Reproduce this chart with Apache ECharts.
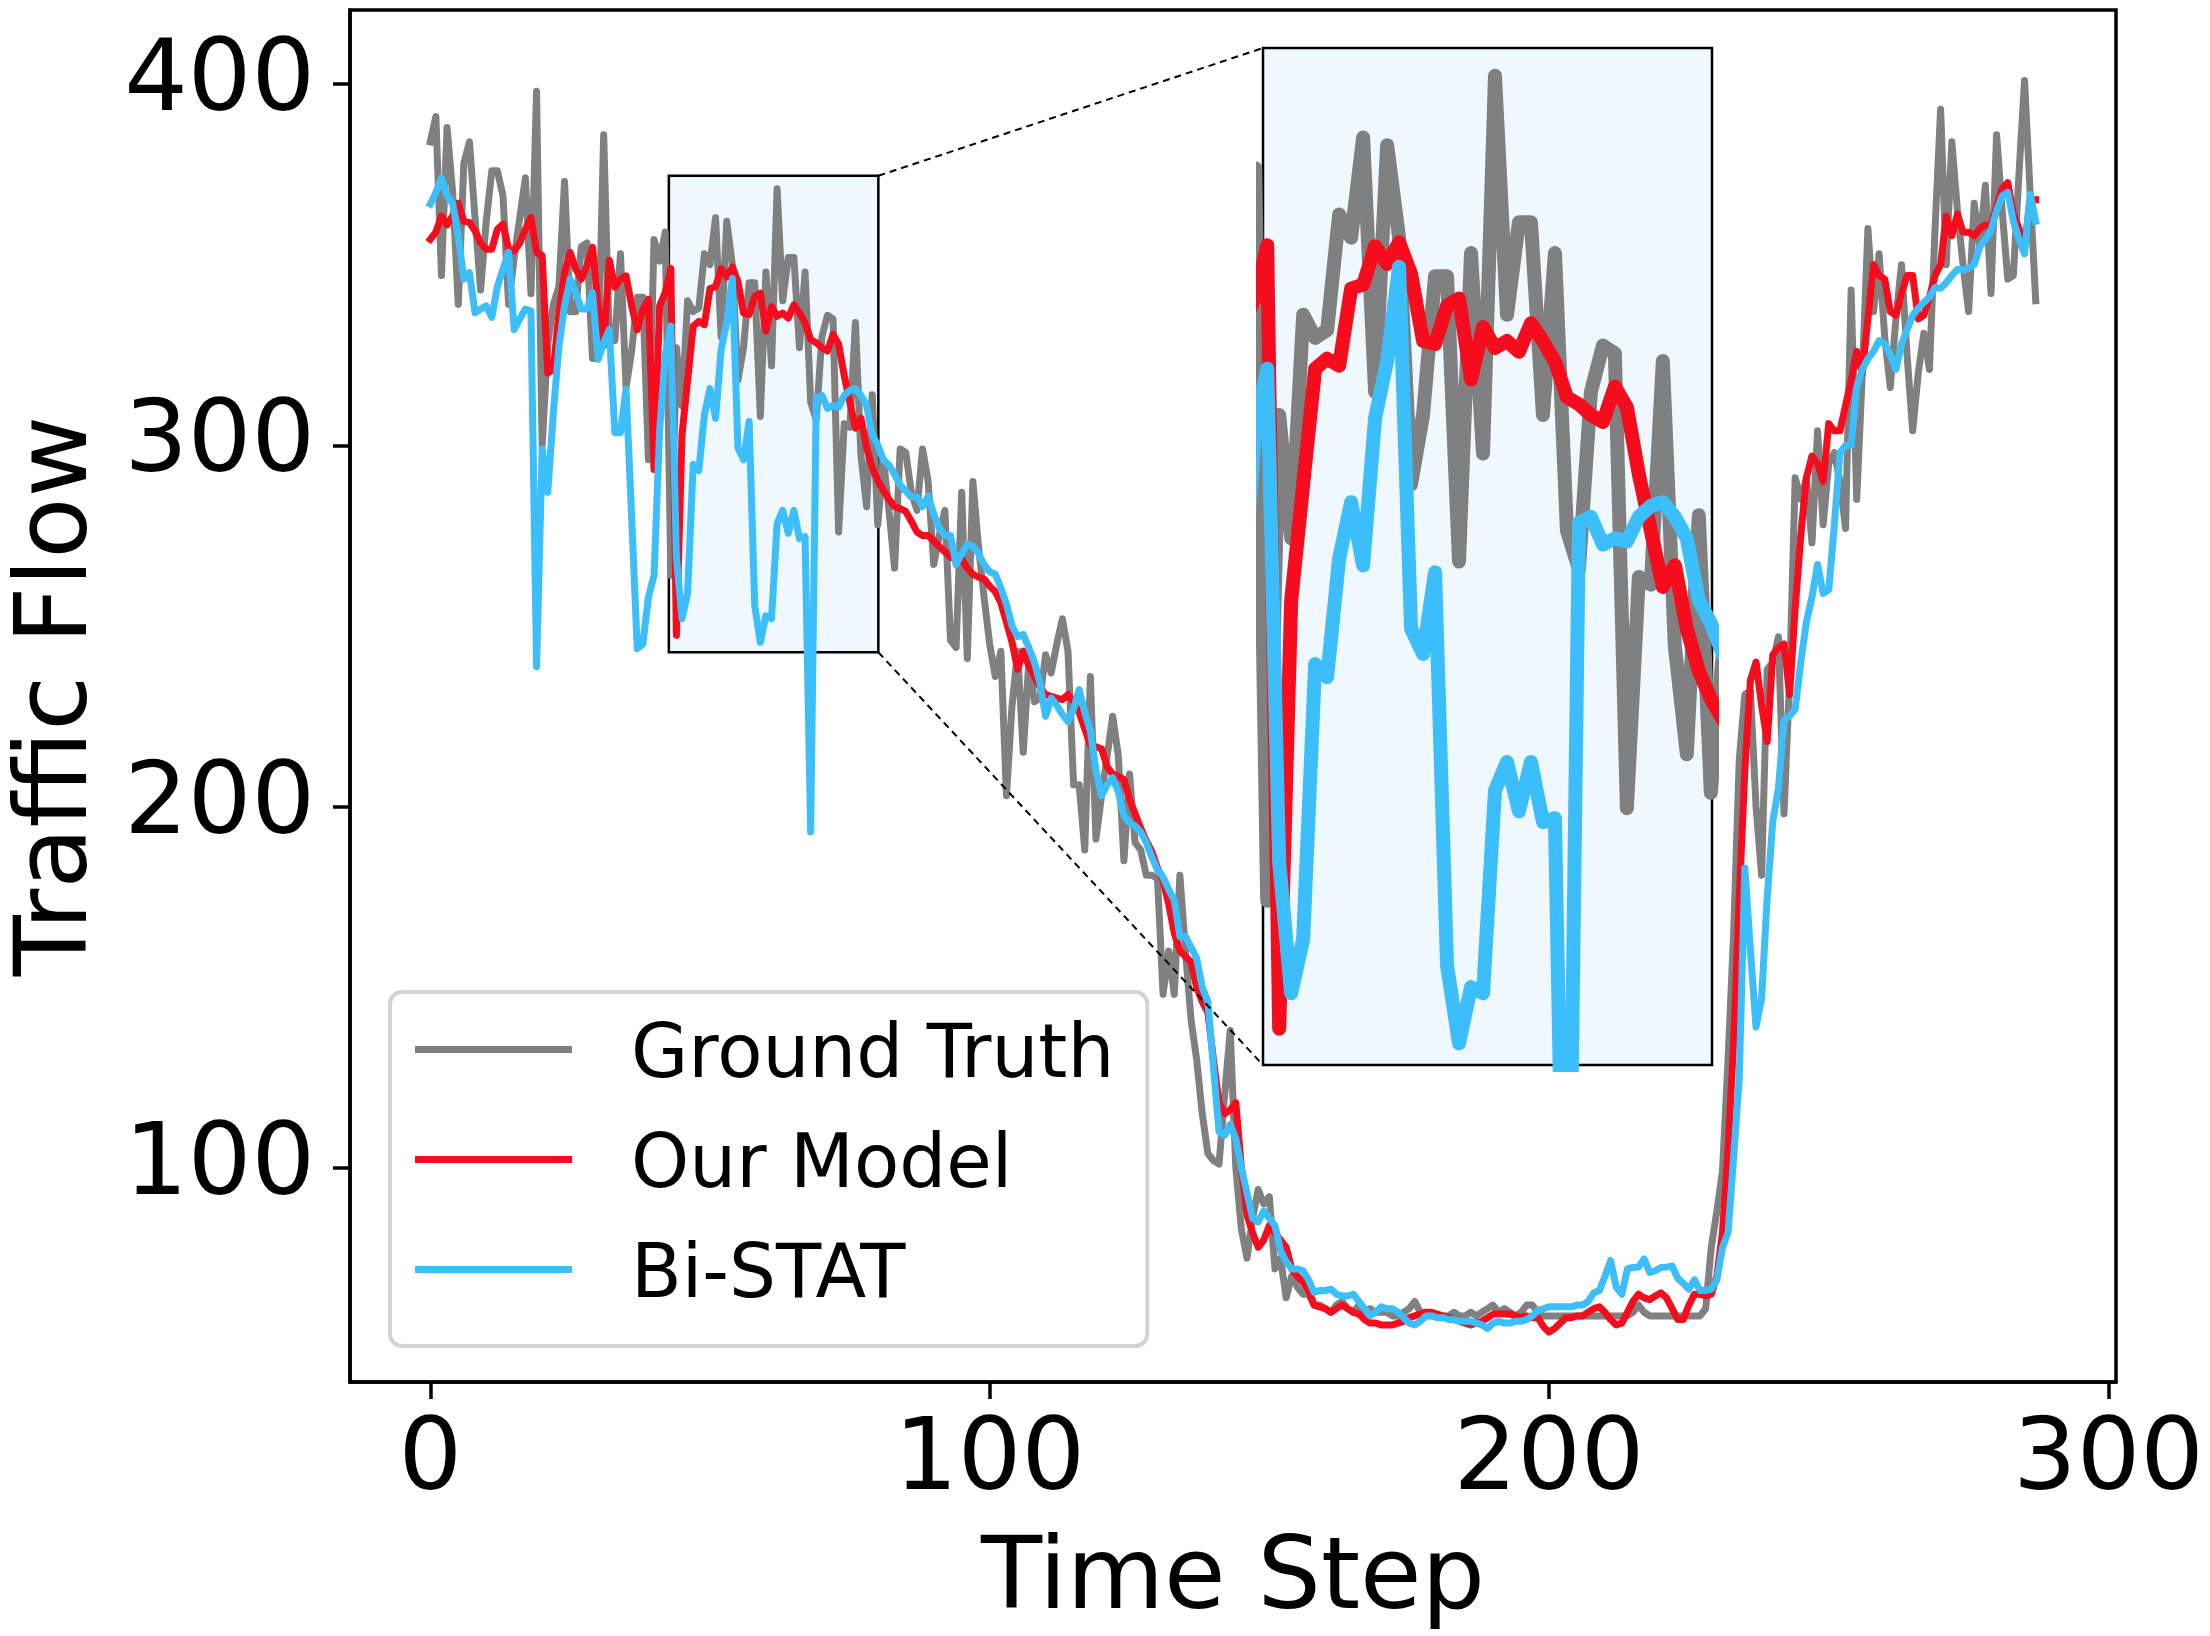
<!DOCTYPE html>
<html>
<head>
<meta charset="utf-8">
<script src="https://cdn.jsdelivr.net/npm/echarts@6/dist/echarts.min.js"></script>
<style>
html,body{margin:0;padding:0;background:#fff;}
#chart{width:2210px;height:1636px;}
</style>
</head>
<body>
<div id="chart"></div>
<script>
// ---- data (time steps are the array indices 0..287) ----
const groundTruth = [
384,391,347,388,370,339,378,384,363,343,
362,376,376,369,339,352,363,374,342,398,
300,328,339,344,373,337,337,355,356,324,
324,386,329,329,353,316,326,341,341,296,
357,351,359,264,327,311,340,337,338,353,
350,363,330,362,350,318,327,345,345,308,
348,322,371,340,352,352,327,348,312,307,
330,336,335,276,306,305,334,297,283,314,
278,296,282,266,299,298,287,282,299,290,
267,275,282,246,244,287,241,290,272,258,
245,236,243,203,228,243,215,240,229,230,
242,237,245,252,243,206,206,188,236,191,
203,214,225,214,185,209,190,188,181,181,
180,148,160,148,181,160,141,130,115,104,
102,101,120,138,100,83,75,86,94,90,
92,72,75,64,70,67,65,65,62,62,
61,60,62,63,61,60,62,60,61,60,
60,60,59,59,60,61,63,60,60,59,
59,59,59,60,59,59,60,59,60,61,
62,60,61,60,59,60,62,62,60,59,
59,59,59,59,59,59,59,59,59,59,
59,59,59,59,59,60,62,60,59,59,
59,59,59,59,59,59,59,59,61,78,
88,99,130,165,213,231,232,200,181,238,
240,247,198,235,291,285,291,273,304,278,
295,298,290,277,343,285,320,360,337,353,
330,316,335,350,325,304,320,331,321,360,
393,350,384,365,350,337,367,355,372,342,
386,365,346,347,375,401,370,340
];
const ourModel = [
357,359,363.5,361,363.5,367,362,361.7,359.4,356,
354.3,354.3,359.8,361.2,354.3,353.8,356,359.8,363,353.4,
352.5,320,321,336.7,347.8,353.4,348.8,346,349.7,354.8,
338.6,327.6,351.2,343.8,346,346.9,338.6,332,337.6,340.4,
293.3,338.6,342.3,349,247.4,302.9,318,333,334.3,333.4,
343.4,343.9,348.9,346.6,349.4,345.3,336.6,336.2,341.2,342.1,
331.6,338.4,335.7,336.6,335.2,338.9,336.6,333.9,329.3,328.4,
327,326.1,330.7,328,319.3,312,304.7,307.5,299.3,293.8,
290.2,287.5,285,283,282.5,281.7,279,276,275,275,
273.5,272,270.5,269,268.5,268.5,266,264.3,263.5,263,
261,259.5,256.4,251,245.5,238,243,239,236,233,
231,230.5,230,229.6,231,229,226,221.5,217,216.5,
216,211,209,208.4,207.5,202,198,194,190.5,187.5,
183,179.5,173,165,160,158.5,157,150,146,143,
130,118,115,116,118,100,87,82,78,80,
84,82,80,78,72,70,68.4,66,62,61.5,
61,60,61,62,61,60,59.5,58,57,57,
56.5,56.5,56.5,57,57.5,58.5,59,59.5,60,60,
59.5,59,58.5,58,57.5,57,56.5,57,57.5,58.5,
59.5,59.5,59.5,59.5,59,58.5,59,58.5,58.5,56,
54.5,55.5,57,58.5,58.5,59,59,60,61,61.5,
60,58,56.5,57,60,63,65,64,63.5,64.5,
65.4,64,61,58,58,62,65,65,64.5,65,
70,82,105,135,175,210,235,240,228,218,
242,244,245,231,255,275,291,297,295,290,
306,304,304,311,318,326,320,335,350,347,
346,337,336,342,347,347,335,336,341,347,
350,363.5,358,364,359,359,358,360,361,361,
366,371,372.7,364,360,355,368,368
];
const biSTAT = [
366.8,370,374,369,367,358,346,347.8,336.7,337.7,
338.6,335.4,344,348.8,353.4,332,335,337.7,337.2,238.7,
299,287,309,327.5,338.6,346,342.3,337.7,337.7,342.3,
323.8,328.4,332,303.5,303.5,315.5,280,243.7,245,258,
264,304,325,333,269,252,259,294.7,293,308.4,
315.7,307.5,326.6,334,346.2,299.3,296,306.6,255.6,245.5,
252.8,252,278.3,282,275.6,282,274.2,274.7,193,313,
313.8,310.2,311,310.6,313.8,315.2,315.7,313.8,311,303,
300,296,294.5,292,289,287.3,285.7,285.7,283,286,
281,277,275,275,267,270,272.6,272,270,267,
265,264.3,260.5,256,250,247,247.6,244,240,234,
225,230,228,225.5,223.5,227,232.4,226,221,210,
203,206,208,204,197.5,195.5,194.6,193,190,186,
182.5,180.5,177,174,164,164,161,158,150,146,
128,110,109,112,108,100,93,86,85,88,
86,84,77,74,72,72,71.5,69,65.5,66,
66,66.4,65,64.5,64.5,65,63,61,59,60,
61.5,61,61,60,58.5,57,56.5,57.5,59,59,
58.5,58.5,58,58,57.5,57.5,57.5,57,56.5,55.5,
57,57.5,57,57,57.5,57.5,58,59,60.5,61,
61.5,61.5,61.5,61.5,61.5,62,62,63,65.4,66,
70,74.3,67,65,72,72.4,72.5,74.8,71,71.5,
72.4,72.5,72.8,69.4,68,66.4,69,66,66,66.4,
69,78,82,103,125,183,160,139,147,175,
196,205,224,225,227,240,251,258,267,259,
260,278,298,300,300,316,321,324,326,329,
328,325,321,328,332,336,338,339.5,341,343.7,
343.5,345,347,348.7,348.5,349,350,355,357,359.5,
365,369,370,362,357,353,369.5,362
];
const seriesNames = ['Ground Truth', 'Our Model', 'Bi-STAT'];
const seriesColors = ['#808080', '#F60D1D', '#3CBEFA'];
const xTicks = [0, 100, 200, 300];
const yTicks = [100, 200, 300, 400];
const zoomX = [42.65, 80.1];   // zoomed window (time steps)
const zoomY = [242.7, 374.6];  // zoomed window (traffic flow)

const FONT = 'DejaVu Sans';
const seriesData = [groundTruth, ourModel, biSTAT];
const toPairs = arr => arr.map((v, i) => [i, v]);

const chart = echarts.init(document.getElementById('chart'), null, {renderer: 'canvas'});

const series = [];
seriesData.forEach((arr, k) => {
  const s = {
    type: 'line', name: seriesNames[k], data: toPairs(arr),
    xAxisIndex: 0, yAxisIndex: 0, symbol: 'none', showSymbol: false,
    lineStyle: {color: seriesColors[k], width: 7, cap: 'square', join: 'round'},
    itemStyle: {color: seriesColors[k]},
    z: 2 + k, silent: true
  };
  if (k === 0) {
    s.markArea = {
      silent: true,
      itemStyle: {color: '#F0F8FF', borderColor: '#000', borderWidth: 2.5},
      data: [[{coord: [zoomX[0], zoomY[1]]}, {coord: [zoomX[1], zoomY[0]]}]]
    };
  }
  series.push(s);
});
seriesData.forEach((arr, k) => {
  series.push({
    type: 'line', name: seriesNames[k], data: toPairs(arr),
    xAxisIndex: 1, yAxisIndex: 1, symbol: 'none', showSymbol: false, clip: true,
    lineStyle: {color: seriesColors[k], width: 14, cap: 'butt', join: 'round'},
    itemStyle: {color: seriesColors[k]},
    z: 6 + k, silent: true
  });
});

const option = {
  animation: false,
  backgroundColor: '#ffffff',
  textStyle: {fontFamily: FONT},
  grid: [
    {left: 350, top: 10, right: 94, bottom: 254, show: true, borderColor: '#000', borderWidth: 3.5,
     backgroundColor: 'transparent', containLabel: false, outerBoundsMode: 'none'},
    {left: 1263, top: 48, right: 498, bottom: 571, show: true, borderColor: '#000', borderWidth: 2.5,
     backgroundColor: '#F0F8FF', containLabel: false, outerBoundsMode: 'none'}
  ],
  xAxis: [
    {
      type: 'value', gridIndex: 0, min: -14.35, max: 301.35,
      axisLine: {show: true, onZero: false, lineStyle: {color: '#000', width: 3.5}},
      axisTick: {show: true, length: 17, customValues: xTicks, lineStyle: {color: '#000', width: 3.5}},
      axisLabel: {customValues: xTicks, fontSize: 100, color: '#000', margin: 31, fontFamily: FONT},
      splitLine: {show: false},
      name: 'Time Step', nameLocation: 'middle', nameGap: 150, nameMoveOverlap: false,
      nameTextStyle: {fontSize: 100, color: '#000', fontFamily: FONT}
    },
    {type: 'value', gridIndex: 1, min: zoomX[0], max: zoomX[1], show: false}
  ],
  yAxis: [
    {
      type: 'value', gridIndex: 0, min: 40.7, max: 420.5,
      axisLine: {show: true, onZero: false, lineStyle: {color: '#000', width: 3.5}},
      axisTick: {show: true, length: 17, customValues: yTicks, lineStyle: {color: '#000', width: 3.5}},
      axisLabel: {customValues: yTicks, fontSize: 100, color: '#000', margin: 35, fontFamily: FONT},
      splitLine: {show: false},
      name: 'Traffic Flow', nameLocation: 'middle', nameGap: 240, nameMoveOverlap: false,
      nameTextStyle: {fontSize: 100, color: '#000', fontFamily: FONT}
    },
    {type: 'value', gridIndex: 1, min: zoomY[0], max: zoomY[1], show: false}
  ],
  legend: {
    data: seriesNames, orient: 'vertical', left: 390, top: 992,
    icon: 'rect', itemWidth: 157, itemHeight: 7, itemGap: 19,
    padding: [12, 33, 31, 25],
    backgroundColor: 'rgba(255,255,255,0.8)', borderColor: '#d3d3d3', borderWidth: 4, borderRadius: 12,
    selectedMode: false,
    formatter: name => '{t|' + name + '}',
    textStyle: {
      fontSize: 74, color: '#000', fontFamily: FONT,
      rich: {t: {fontSize: 74, color: '#000', fontFamily: FONT, lineHeight: 80, padding: [17, 0, 0, 54]}}
    }
  },
  series: series
};
chart.setOption(option);

// dashed connector lines between the zoom window and the inset
const a1 = chart.convertToPixel({xAxisIndex: 0, yAxisIndex: 0}, [zoomX[1], zoomY[1]]);
const b1 = chart.convertToPixel({xAxisIndex: 1, yAxisIndex: 1}, [zoomX[0], zoomY[1]]);
const a2 = chart.convertToPixel({xAxisIndex: 0, yAxisIndex: 0}, [zoomX[1], zoomY[0]]);
const b2 = chart.convertToPixel({xAxisIndex: 1, yAxisIndex: 1}, [zoomX[0], zoomY[0]]);
chart.setOption({
  graphic: [
    {type: 'line', z: 20, silent: true, shape: {x1: a1[0], y1: a1[1], x2: b1[0], y2: b1[1]}, style: {stroke: '#000', lineWidth: 2, lineDash: [7, 5]}},
    {type: 'line', z: 20, silent: true, shape: {x1: a2[0], y1: a2[1], x2: b2[0], y2: b2[1]}, style: {stroke: '#000', lineWidth: 2, lineDash: [7, 5]}}
  ]
});
</script>
</body>
</html>
